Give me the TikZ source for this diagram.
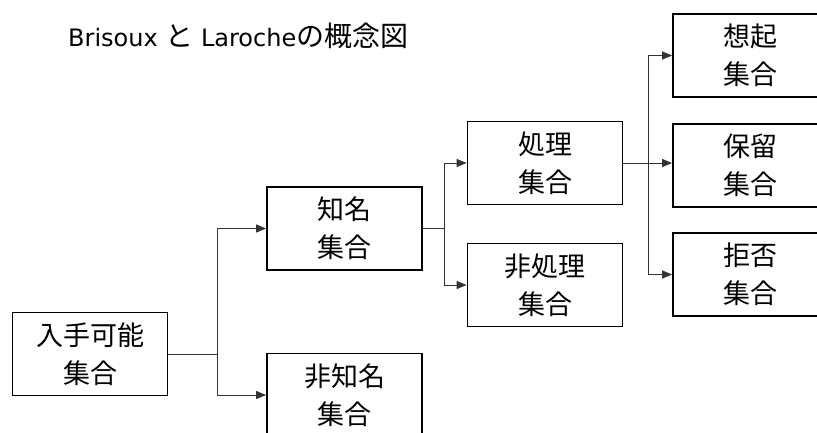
\documentclass[tikz,border=0pt]{standalone}
\usepackage{fontspec}
\setmainfont{Noto Sans CJK JP}
\newfontfamily\latinfont{DejaVu Sans}
\usetikzlibrary{arrows.meta}
\tikzset{
  setbox/.style={draw=black, line width=1.8pt, minimum width=155pt, minimum height=83pt,
    inner sep=0pt, align=center, font=\fontsize{27pt}{38pt}\selectfont},
  conn/.style={line width=1pt, draw=black!80},
  arr/.style={conn, -{Triangle[length=10pt,width=8pt]}},
}
\begin{document}
\begin{tikzpicture}[x=1pt,y=-1pt]
\useasboundingbox (0,0) rectangle (817,432);
\clip (0,0) rectangle (817,432);
\node[anchor=base west, font=\fontsize{28pt}{30pt}\selectfont, inner sep=0pt] (title) at (68,46)
  {{\fontsize{24pt}{28pt}\selectfont\latinfont Brisoux }と{\fontsize{24pt}{28pt}\selectfont\latinfont\ Laroche}の概念図};
\node[setbox] (a) at (90,354) {入手可能\\集合};
\node[setbox] (b) at (344.5,228.5) {知名\\集合};
\node[setbox] (c) at (344.5,395) {非知名\\集合};
\node[setbox] (d) at (545,163) {処理\\集合};
\node[setbox] (e) at (545,285) {非処理\\集合};
\node[setbox] (f) at (750.5,55.5) {想起\\集合};
\node[setbox] (g) at (750.5,165.5) {保留\\集合};
\node[setbox] (h) at (750.5,274.5) {拒否\\集合};
\coordinate (j1) at (217,354);
\coordinate (j2) at (444.5,228.5);
\coordinate (j3) at (648,163);
\draw[conn] (a.east) -- (j1);
\draw[arr] (j1) |- (b.west);
\draw[arr] (j1) |- (c.west);
\draw[conn] (b.east) -- (j2);
\draw[arr] (j2) |- (d.west);
\draw[arr] (j2) |- (e.west);
\draw[conn] (d.east) -- (j3);
\draw[arr] (j3) |- (f.west);
\draw[arr] (j3) -- (g.west |- j3);
\draw[arr] (j3) |- (h.west);
\end{tikzpicture}
\end{document}
